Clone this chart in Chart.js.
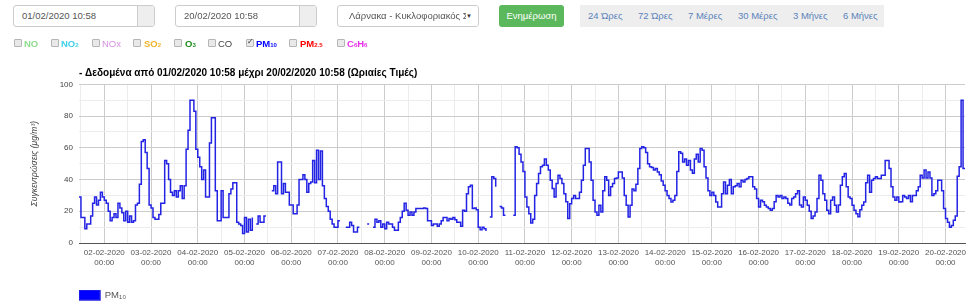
<!DOCTYPE html>
<html>
<head>
<meta charset="utf-8">
<script src="https://cdn.jsdelivr.net/npm/chart.js@4.4.0/dist/chart.umd.min.js"></script>
<style>
  body {
    margin: 0; width: 980px; height: 307px; overflow: hidden; background: #fff;
    position: relative; font-family: "Liberation Sans", Arial, sans-serif;
  }
  #pmChart { position: absolute; left: 0; top: 0; }
  .field {
    position: absolute; top: 5px; height: 22px; box-sizing: border-box;
    border: 1px solid #ccc; border-radius: 3px; background: #fff;
    font-size: 9.5px; color: #555; line-height: 20px; padding-left: 8px;
    white-space: nowrap; overflow: hidden;
  }
  .field .addon {
    position: absolute; right: 0; top: 0; bottom: 0; width: 16px;
    background: #eee; border-left: 1px solid #ccc;
  }
  .field .caret { position: absolute; right: 0; top: 0; width: 12px; font-size: 6px; color: #333; background: #fff; }
  #update {
    position: absolute; left: 499px; top: 5px; width: 65px; height: 22px;
    background: #5cb85c; color: #fff; border-radius: 3px; font-size: 9.5px;
    line-height: 22px; text-align: center;
  }
  #ranges { position: absolute; left: 580px; top: 5px; width: 304px; height: 22px; background: #eee; }
  .range { position: absolute; top: 0; line-height: 22px; font-size: 9.5px; color: #5a82ba; }
  .chk {
    position: absolute; top: 39px; width: 8px; height: 8px; box-sizing: border-box;
    border: 1px solid #b5b5b5; background: #e9e9e9; border-radius: 1px;
  }
  .chk.on::after {
    content: "✓"; position: absolute; left: 0px; top: -3px; font-size: 8px; color: #333;
  }
  .lbl { position: absolute; top: 37px; font-size: 9.5px; font-weight: bold; line-height: 13px; }
  .lbl small { font-size: 6px; }
</style>
</head>
<body>
<canvas id="pmChart" width="980" height="307"></canvas>

<div class="field" style="left:13px;width:142px">01/02/2020 10:58<span class="addon"></span></div>
<div class="field" style="left:175px;width:142px">20/02/2020 10:58<span class="addon"></span></div>
<div class="field" style="left:337px;width:142px;padding-left:11px">Λάρνακα - Κυκλοφοριακός Σταθμός<span class="caret">▼</span></div>
<div id="update">Ενημέρωση</div>
<div id="ranges">
  <span class="range" style="left:8px">24 Ώρες</span>
  <span class="range" style="left:58px">72 Ώρες</span>
  <span class="range" style="left:108px">7 Μέρες</span>
  <span class="range" style="left:158px">30 Μέρες</span>
  <span class="range" style="left:213px">3 Μήνες</span>
  <span class="range" style="left:263px">6 Μήνες</span>
</div>

<span class="chk" style="left:14px"></span><span class="lbl" style="left:24px;color:#8fdc8f">NO</span>
<span class="chk" style="left:51px"></span><span class="lbl" style="left:61px;color:#3fd0e8">NO<small>2</small></span>
<span class="chk" style="left:92px"></span><span class="lbl" style="left:102px;color:#d58fe0;font-weight:normal">NOx</span>
<span class="chk" style="left:133px"></span><span class="lbl" style="left:144px;color:#f0b428">SO<small>2</small></span>
<span class="chk" style="left:174px"></span><span class="lbl" style="left:185px;color:#1e8c1e">O<small>3</small></span>
<span class="chk" style="left:208px"></span><span class="lbl" style="left:218px;color:#444;font-weight:normal">CO</span>
<span class="chk on" style="left:246px"></span><span class="lbl" style="left:256px;color:#0000ff">PM<small>10</small></span>
<span class="chk" style="left:289px"></span><span class="lbl" style="left:300px;color:#ff0000">PM<small>2.5</small></span>
<span class="chk" style="left:337px"></span><span class="lbl" style="left:347px;color:#e62ee6">C<small>6</small>H<small>6</small></span>

<script>
// hourly PM10 (μg/m³); x = hours counted from 01-02-2020 00:00, first value at 11:00
const firstHour = 11;
const pm10 = [
  // 01-02 11:00 - 23:00
  29, 16, 16, 9, 12, 12, 17, 25, 29, 24, 27, 32, 29,
  // 02-02
  27, 25, 20, 14, 16, 18.5, 16, 25, 22, 19, 14, 20, 13, 17, 13, 14, 24, 25, 37, 64, 65, 57, 47, 24,
  // 03-02
  22, 16, 15, 15, 18, 25, 25, 52, 50, 40, 32, 30, 33, 29, 33, 36, 28, 36, 59, 71, 90, 90, 83, 59,
  // 04-02
  54, 48, 40, 46, 29, 29, 63, 79, 79, 33, 14, 14, 33, 16, 16, 16, 31, 34, 38, 38, 13, 12, 11, 6,
  // 05-02
  16, 7, 15, 8, 16, null, 12, 17, 13, 13, 17, 17, null, null, 33, 36, 31, 51, 51, 31, 37.5, 32, 32, 24,
  // 06-02
  24, 18.5, 18.5, 24, 40, 40, 43, 40, 32, 37.5, 38.5, 52, 38, 58.5, 40, 58, 36, 28, 23, 20, 15, 12, 10, 10,
  // 07-02
  14, 14, null, null, 10, 10, 13, 11, 7, 7, 10, 10, null, null, null, 12, 12, null, 10, 15, 13, 14, 10, 12,
  // 08-02
  9, 13, 12, 12, 10, 8, 8, 13, 16, 20, 25, 20.6, 17.5, 19.6, 17.5, 19.6, 21.7, 21.7, 21.7, 21.7, 22, 21.7, 14, 14,
  // 09-02
  11, 12, 12, 10.5, 12, 14, 16, 16, 14, 15.4, 15, 16, 14.7, 13, 13, 10.5, 20.6, 20, 31, 35.4, 36.4, 21.7, 22, 21,
  // 10-02
  10, 8.4, 10, 9, 7.6, null, 16.4, 41.7, 40.6, 35.4, null, 23, 22, 17.5, 17.5, null, null, null, 17.5, 60.6, 60, 56, 51, 45,
  // 11-02
  29, 22.7, 18.5, 12.6, 15, 30, 37.5, 43.8, 48, 49, 53, 49, 46, 39.6, 34.3, 29, 37.5, 42.7, 40.6, 37.5, 31, 26, 15.4, 24.8,
  // 12-02
  28, 30, 28, 28, 32, 39.6, 49, 59.6, 59.6, 51, 39.6, 27, 19.6, 17.5, 23.8, 19.6, 33, 41.7, 39.6, 30, 35.4, 37.5, 40.6, 41,
  // 13-02
  44.8, 44.8, 41, 30, 23.8, 16.4, 23.8, 34, 33, 37, 47, 59.6, 60.6, 60, 57, 50, 48, 47.5, 46, 47, 44.8, 43, 39, 36.4,
  // 14-02
  33, 30, 28, 25.9, 27, 30, 45, 57.5, 56.5, 51, 53, 49, 52, 46, 44, 53, 56, 51, 59.6, 58.5, 48, 41, 33, 30,
  // 15-02
  32, 30, 25.9, 22.7, 22.7, 31, 38.5, 31, 36.4, 40, 31, 35.4, 36, 37.5, 35.4, 39.6, 38.5, 40, 40.6, 41.7, 41.7, 35.4, 34, 28,
  // 16-02
  22.7, 27, 26, 23.8, 22.7, 21.7, 20.6, 21.7, 26, 30, 29, 30, 28, 29, 28, 25, 24, 28, 29, 31, 33, 24, 22.7, 29,
  // 17-02
  27, 23.8, 20, 15.4, 17, 19.6, 28, 42.7, 39.6, 31, 27, 20.6, 18.5, 27, 29, 23.8, 19.6, 24, 36.4, 41.7, 43.8, 35.4, 29, 28,
  // 18-02
  23.8, 20.6, 18.5, 16.5, 21, 23.8, 25.9, 38, 42.7, 32, 39.6, 40.6, 41.7, 40.6, 40.6, 42.7, 42.7, 52, 52, 47, 35.4, 29, 27, 29,
  // 19-02
  25.9, 26, 30, 29, 28, 30, 26, 30, 30, 33, 35.4, 42.7, 41, 46, 41, 44.8, 41, 30, 31, 33, 39.6, 39.6, 33, 21.7,
  // 20-02 00:00 - 10:00
  15.4, 13, 10, 11, 14.3, 17, 42, 48, 90, 47, 47
];

// day tick labels, one per midnight from 02-02 (hour 24) to 20-02 (hour 456)
const dayLabels = [
  '02-02-2020', '03-02-2020', '04-02-2020', '05-02-2020', '06-02-2020', '07-02-2020',
  '08-02-2020', '09-02-2020', '10-02-2020', '11-02-2020', '12-02-2020', '13-02-2020',
  '14-02-2020', '15-02-2020', '16-02-2020', '17-02-2020', '18-02-2020', '19-02-2020', '20-02-2020'
];
const yTicks = [0, 20, 40, 60, 80, 100];
const lastHour = firstHour + pm10.length - 1;

// grid every 12 hours, labels only at midnight
const xGrid = [];
for (let h = 12; h <= 24 * dayLabels.length; h += 12) xGrid.push(h);

const ctx = document.getElementById('pmChart').getContext('2d');
const pmChart = new Chart(ctx, {
    type: 'line',
    data: {
        datasets: [{
            label: 'PM₁₀',
            data: pm10.map((v, i) => ({ x: firstHour + i, y: v })),
            borderColor: '#2323e4',
            backgroundColor: '#0000ff',
            borderWidth: 1.5,
            stepped: true,
            pointRadius: 0,
            spanGaps: false,
            fill: false
        }]
    },
    options: {
        responsive: false,
        animation: false,
        devicePixelRatio: 1,
        layout: { padding: { left: 0, right: 15, top: 0, bottom: 0 } },
        scales: {
            x: {
                type: 'linear',
                min: firstHour,
                max: lastHour,
                afterBuildTicks: axis => { axis.ticks = xGrid.map(v => ({ value: v })); },
                afterFit: axis => { axis.height = 47; },
                grid: {
                    drawTicks: false,
                    color: c => (c.tick && c.tick.value % 24 === 0) ? '#cccccc' : '#ececec'
                },
                border: { display: true, color: '#555', width: 1 },
                ticks: {
                    autoSkip: false,
                    maxRotation: 0,
                    minRotation: 0,
                    padding: 5,
                    color: '#555',
                    font: { family: 'Liberation Sans', size: 8 },
                    callback: value => value % 24 === 0 ? [dayLabels[value / 24 - 1], '00:00'] : ''
                }
            },
            y: {
                min: 0,
                max: 100,
                afterFit: axis => { axis.width = 79; },
                grid: {
                    drawTicks: false,
                    color: c => {
                        const v = c.tick ? c.tick.value : 1;
                        if (v === 0) return 'rgba(0,0,0,0)';
                        return yTicks.includes(v) ? '#cccccc' : '#ececec';
                    }
                },
                border: { display: false },
                ticks: {
                    stepSize: 10,
                    padding: 6,
                    color: '#444',
                    font: { family: 'Liberation Sans', size: 8 },
                    callback: value => yTicks.includes(value) ? value : ''
                },
                title: {
                    display: true,
                    text: 'Συγκεντρώσεις (μg/m³)',
                    color: '#444',
                    font: { family: 'Liberation Sans', size: 8.5, style: 'italic' },
                    padding: { top: 30, bottom: 0 }
                }
            }
        },
        plugins: {
            title: {
                display: true,
                text: '- Δεδομένα από 01/02/2020 10:58 μέχρι 20/02/2020 10:58 (Ωριαίες Τιμές)',
                align: 'start',
                fullSize: false,
                color: '#000',
                font: { family: 'Liberation Sans', size: 10, weight: 'bold' },
                padding: { top: 67, bottom: 5.3 }
            },
            legend: {
                position: 'bottom',
                align: 'start',
                fullSize: false,
                maxHeight: 17,
                labels: {
                    boxWidth: 21,
                    boxHeight: 10,
                    padding: 0,
                    color: '#555',
                    font: { family: 'Liberation Sans', size: 9.5 }
                }
            },
            tooltip: { enabled: false }
        }
    }
});
</script>
</body>
</html>
